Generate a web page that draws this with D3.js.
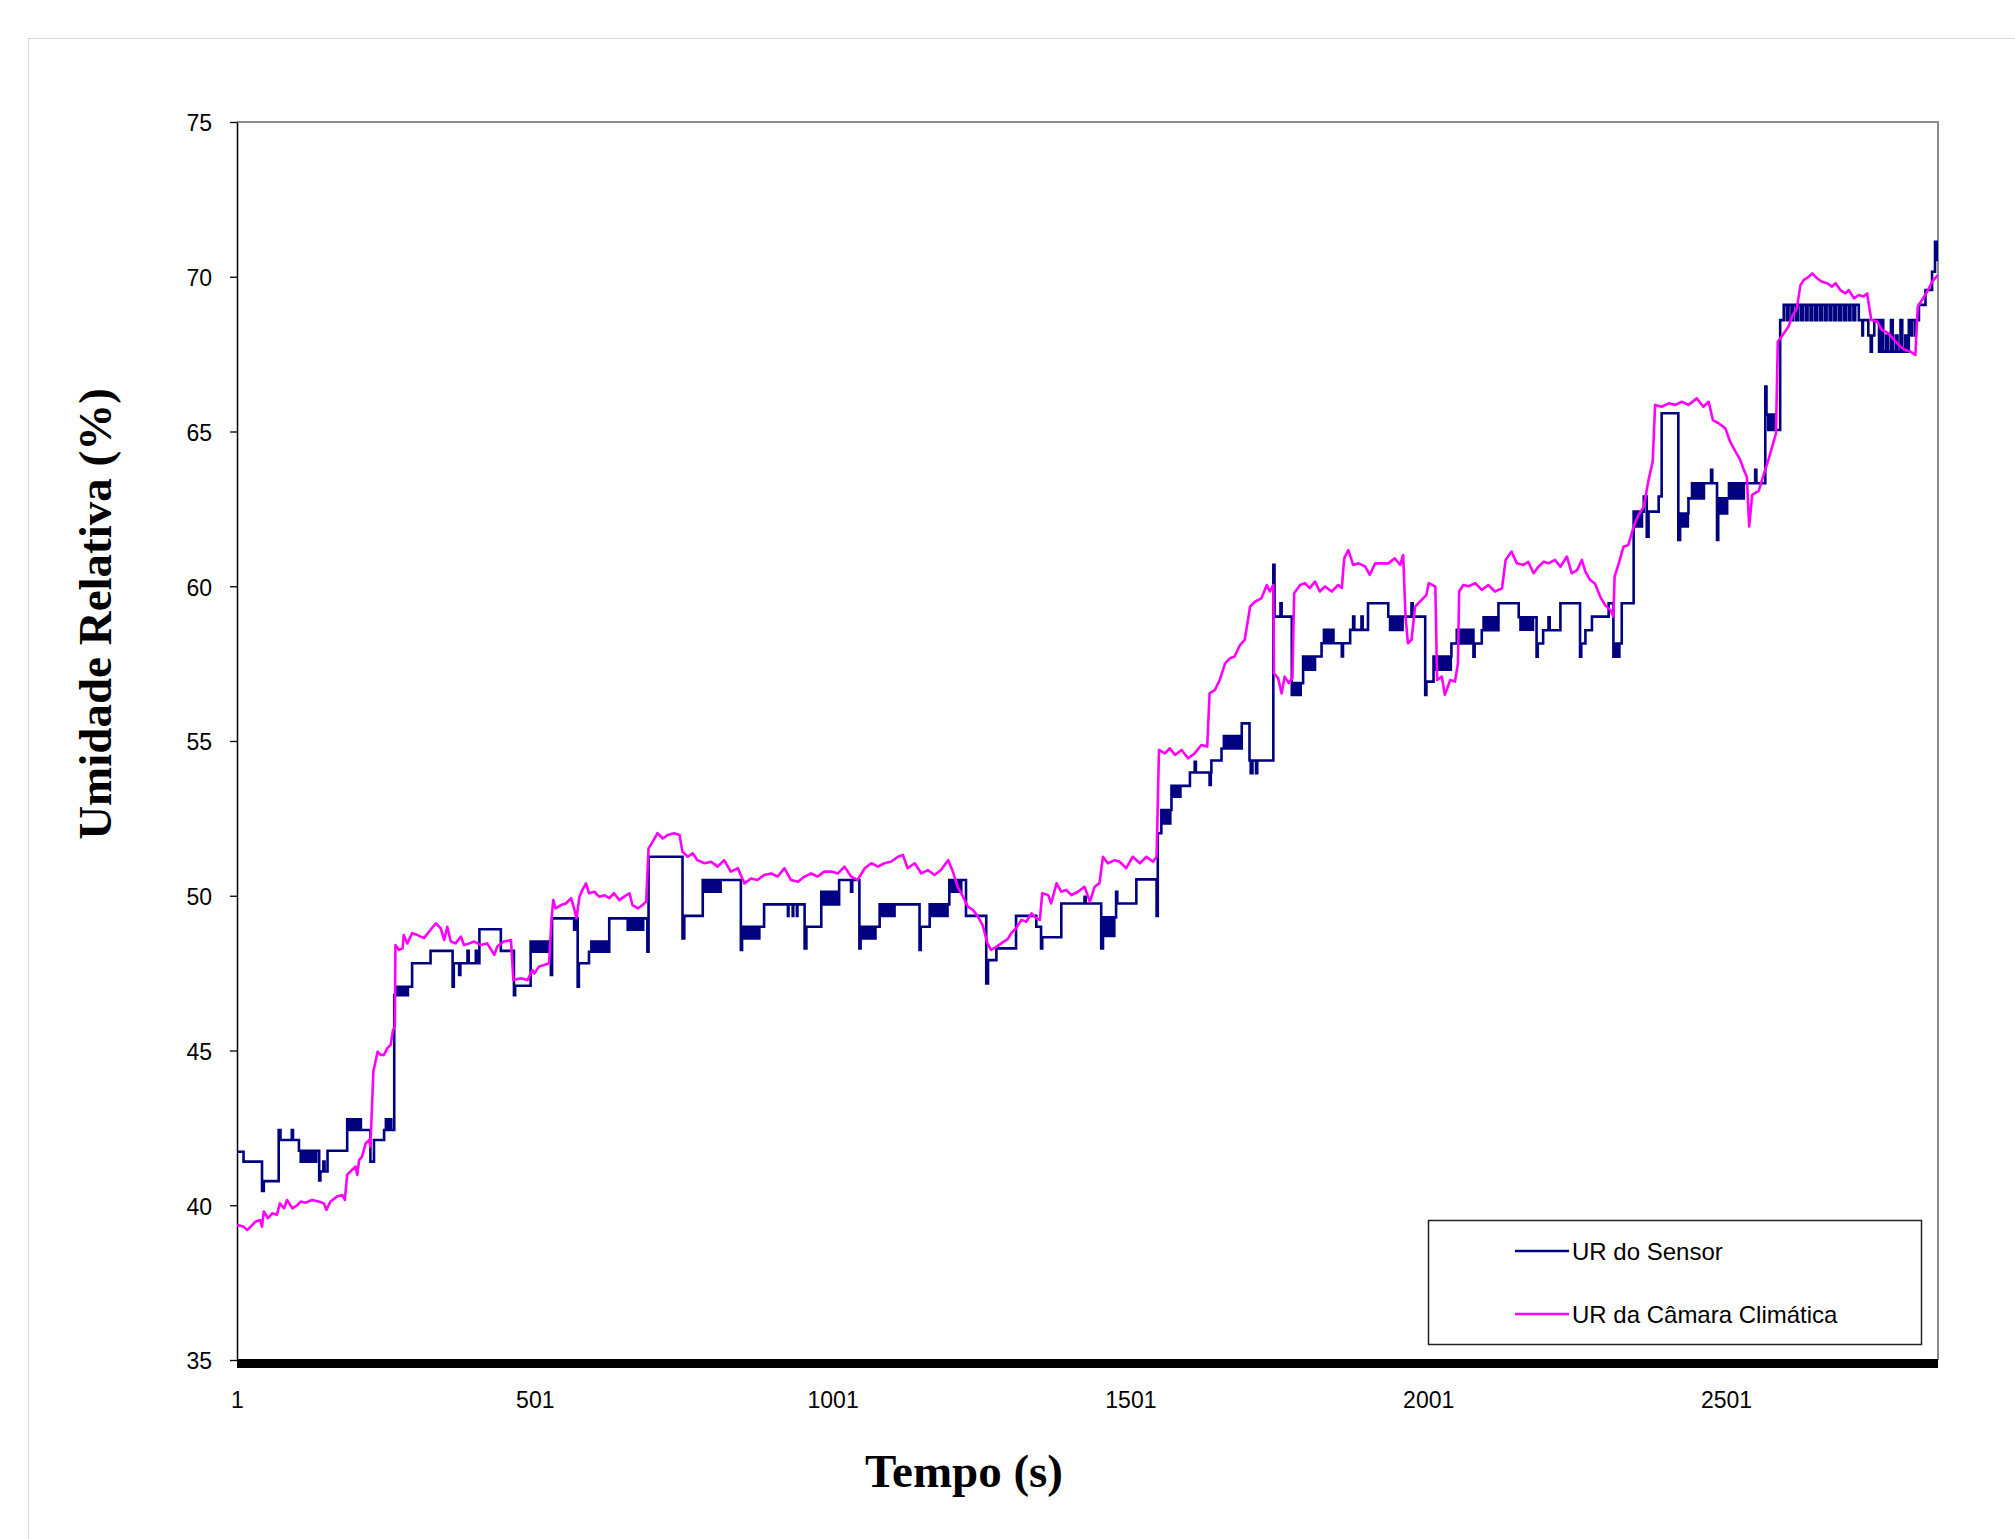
<!DOCTYPE html>
<html>
<head>
<meta charset="utf-8">
<script src="https://cdn.jsdelivr.net/npm/d3@7"></script>
<style>
  html, body { margin: 0; padding: 0; background: #ffffff; }
  svg { display: block; }
</style>
</head>
<body>
<div id="chart"></div>
<script>
// ---------------- DATA ----------------
const xTickLabels = [1, 501, 1001, 1501, 2001, 2501];
const yTickLabels = [35, 40, 45, 50, 55, 60, 65, 70, 75];
const seriesNames = ["UR do Sensor", "UR da Câmara Climática"];
const timeDomain = [1, 2857];

// Sensor relative humidity: [time (s), value (%)], held until the next entry
const sensorRH = [
[1,41.73],[12,41.41],[43,40.46],[46,40.78],[71,42.43],[74,42.11],[93,42.43],[95,42.11],
[105,41.76],[108,41.41],[109,41.76],[113,41.41],[114,41.76],[118,41.41],[119,41.76],[123,41.41],[124,41.76],[128,41.41],[129,41.76],[133,41.41],[134,41.76],
[139,40.8],[141,41.09],[146,41.41],[148,41.09],[153,41.76],
[186,42.78],[190,42.43],[191,42.78],[195,42.43],[196,42.78],[200,42.43],[201,42.78],[205,42.43],[206,42.78],[209,42.43],
[225,41.41],[231,42.11],[248,42.43],[251,42.78],[252,42.43],[255,42.78],[256,42.43],[259,42.78],[260,42.43],
[265,46.79],[268,47.06],[269,46.79],[273,47.06],[274,46.79],[278,47.06],[279,46.79],[283,47.06],[284,46.79],[288,47.06],
[295,47.82],[326,48.22],[363,47.06],[365,47.82],[374,47.44],[376,47.82],[388,48.22],[390,47.82],[402,48.22],[404,47.82],
[408,48.92],[444,48.22],[466,46.79],[468,47.09],
[494,48.52],[498,48.19],[499,48.52],[503,48.19],[504,48.52],[508,48.19],[509,48.52],[513,48.19],[514,48.52],[518,48.19],[519,48.52],[523,48.19],[524,48.52],
[528,47.44],[530,49.27],[567,48.9],[569,49.27],[573,47.06],[575,47.82],
[592,48.19],[596,48.52],[597,48.19],[601,48.52],[602,48.19],[606,48.52],[607,48.19],[611,48.52],[612,48.19],[616,48.52],[617,48.19],[621,48.52],[622,48.19],
[626,49.27],[657,48.9],[658,49.27],[662,48.9],[663,49.27],[667,48.9],[668,49.27],[672,48.9],[673,49.27],[677,48.9],[678,49.27],[682,48.9],[683,49.27],
[690,48.19],[692,51.26],[749,48.62],[752,49.35],
[783,50.51],[787,50.13],[788,50.51],[792,50.13],[793,50.51],[797,50.13],[798,50.51],[802,50.13],[803,50.51],[807,50.13],[808,50.51],[812,50.13],[813,50.51],
[847,48.25],[849,49.0],[852,48.62],[853,49.0],[857,48.62],[858,49.0],[862,48.62],[863,49.0],[867,48.62],[868,49.0],[872,48.62],[873,49.0],[877,48.62],[878,49.0],
[886,49.72],[926,49.35],[927,49.72],[934,49.35],[935,49.72],[941,49.35],[942,49.72],
[954,48.3],[957,49.0],
[982,50.13],[985,49.72],[986,50.13],[990,49.72],[991,50.13],[995,49.72],[996,50.13],[1000,49.72],[1001,50.13],[1005,49.72],[1006,50.13],[1010,49.72],
[1012,50.51],[1032,50.13],[1034,50.51],
[1046,48.3],[1048,49.0],[1052,48.62],[1053,49.0],[1057,48.62],[1058,49.0],[1062,48.62],[1063,49.0],[1067,48.62],[1068,49.0],[1072,48.62],[1073,49.0],
[1080,49.72],[1084,49.35],[1085,49.72],[1089,49.35],[1090,49.72],[1094,49.35],[1095,49.72],[1099,49.35],[1100,49.72],[1104,49.35],[1105,49.72],
[1147,48.25],[1149,49.0],
[1164,49.72],[1168,49.35],[1169,49.72],[1173,49.35],[1174,49.72],[1178,49.35],[1179,49.72],[1183,49.35],[1184,49.72],[1188,49.35],[1189,49.72],[1193,49.35],[1194,49.72],
[1197,50.51],[1201,50.13],[1202,50.51],[1206,50.13],[1207,50.51],[1211,50.13],[1212,50.51],[1216,50.13],[1217,50.51],
[1225,49.35],[1259,47.17],[1262,47.92],[1276,48.3],
[1309,49.35],[1343,49.0],[1351,48.3],[1353,48.66],
[1385,49.75],[1424,49.97],[1426,49.75],
[1452,48.3],[1455,49.3],[1458,48.7],[1459,49.3],[1463,48.7],[1464,49.3],[1468,48.7],[1469,49.3],[1473,48.7],[1474,49.3],
[1477,50.13],[1479,49.75],[1511,50.53],
[1545,49.35],[1547,52.02],[1553,52.77],[1557,52.34],[1558,52.77],[1562,52.34],[1563,52.77],[1567,52.34],[1568,52.77],
[1570,53.55],[1574,53.2],[1575,53.55],[1579,53.2],[1580,53.55],[1584,53.2],[1585,53.55],
[1601,53.98],[1609,54.33],[1611,53.98],[1634,53.58],[1636,53.98],[1637,54.37],
[1654,54.76],[1658,55.16],[1659,54.76],[1663,55.16],[1664,54.76],[1668,55.16],[1669,54.76],[1673,55.16],[1674,54.76],[1678,55.16],[1679,54.76],[1683,55.16],[1684,54.76],
[1688,55.57],[1701,54.37],[1703,53.96],[1706,54.37],[1712,53.96],[1714,54.37],
[1741,60.69],[1743,59.02],[1753,59.45],[1755,59.02],
[1772,56.49],[1774,56.87],[1777,56.49],[1778,56.87],[1782,56.49],[1783,56.87],[1786,56.49],[1787,56.87],
[1791,57.73],[1795,57.3],[1796,57.73],[1800,57.3],[1801,57.73],[1805,57.3],[1806,57.73],[1810,57.3],[1811,57.73],
[1822,58.16],[1826,58.59],[1827,58.16],[1831,58.59],[1832,58.16],[1836,58.59],[1837,58.16],[1841,58.59],[1842,58.16],
[1856,57.73],[1858,58.16],
[1870,58.59],[1875,59.02],[1877,58.59],[1889,59.02],[1891,58.59],
[1900,59.45],
[1934,59.02],[1937,58.59],[1938,59.02],[1942,58.59],[1943,59.02],[1947,58.59],[1948,59.02],[1952,58.59],[1953,59.02],[1957,58.59],[1958,59.02],
[1973,59.45],[1975,59.02],
[1996,56.49],[1998,56.92],
[2010,57.73],[2013,57.3],[2014,57.73],[2018,57.3],[2019,57.73],[2023,57.3],[2024,57.73],[2028,57.3],[2029,57.73],[2033,57.3],[2034,57.73],[2038,57.3],[2039,57.73],
[2040,58.15],[2049,58.59],[2053,58.15],[2054,58.59],[2058,58.15],[2059,58.59],[2063,58.15],[2064,58.59],[2068,58.15],[2069,58.59],[2073,58.15],[2074,58.59],
[2077,57.72],[2079,58.15],
[2091,58.58],[2094,59.0],[2095,58.58],[2099,59.0],[2100,58.58],[2104,59.0],[2105,58.58],[2109,59.0],[2110,58.58],[2114,59.0],[2115,58.58],
[2119,59.45],
[2153,59.0],[2156,58.6],[2157,59.0],[2161,58.6],[2162,59.0],[2166,58.6],[2167,59.0],[2171,58.6],[2172,59.0],[2176,58.6],[2177,59.0],
[2183,57.72],[2185,58.15],[2194,58.58],[2203,59.0],[2205,58.58],
[2223,59.45],
[2256,57.72],[2258,58.15],[2265,58.58],[2276,59.02],
[2304,59.45],
[2312,57.72],[2314,58.15],[2317,57.72],[2318,58.15],[2321,57.72],[2322,58.15],
[2326,59.45],
[2346,62.41],[2349,61.93],[2350,62.41],[2354,61.93],[2355,62.41],[2359,61.93],[2360,62.41],
[2363,62.9],[2368,61.6],[2371,62.41],[2388,62.9],
[2393,65.59],
[2421,61.5],[2424,62.35],[2427,61.93],[2428,62.35],[2432,61.93],[2433,62.35],[2436,61.93],[2437,62.35],
[2438,62.84],[2444,63.33],[2448,62.84],[2449,63.33],[2453,62.84],[2454,63.33],[2458,62.84],[2459,63.33],[2463,62.84],[2464,63.33],
[2476,63.76],[2478,63.33],
[2486,61.5],[2488,62.84],[2492,62.35],[2493,62.84],[2497,62.35],[2498,62.84],[2502,62.35],[2503,62.84],
[2506,63.33],[2510,62.84],[2511,63.33],[2515,62.84],[2516,63.33],[2520,62.84],[2521,63.33],[2525,62.84],[2526,63.33],[2529,62.84],[2531,63.33],
[2550,63.76],[2552,63.33],
[2567,66.45],[2569,65.55],[2572,65.05],[2573,65.55],[2577,65.05],[2578,65.55],[2582,65.05],[2583,65.55],[2584,65.05],
[2592,68.6],
[2598,69.09],[2603,68.6],[2606,69.09],[2611,68.6],[2614,69.09],[2619,68.6],[2622,69.09],[2627,68.6],
[2630,69.09],[2635,68.6],[2638,69.09],[2643,68.6],[2646,69.09],[2651,68.6],[2654,69.09],[2659,68.6],
[2662,69.09],[2667,68.6],[2670,69.09],[2675,68.6],[2678,69.09],[2683,68.6],[2686,69.09],[2691,68.6],
[2694,69.09],[2699,68.6],[2702,69.09],[2707,68.6],[2710,69.09],[2715,68.6],[2718,69.09],
[2724,68.6],[2730,68.1],[2731,68.6],[2740,68.1],[2744,67.58],[2746,68.1],[2750,68.6],
[2758,67.58],[2762,68.6],[2765,67.58],[2770,68.1],[2773,67.58],[2778,68.6],[2781,67.58],[2786,68.1],
[2789,67.58],[2794,68.6],[2797,67.58],[2802,68.1],[2805,67.58],
[2808,68.6],[2812,68.1],[2813,68.6],[2818,68.1],[2819,68.6],
[2825,69.09],[2836,69.57],[2847,70.16],[2852,71.13],[2855,70.54],[2857,70.54]
];

// Climatic chamber relative humidity: [time (s), value (%)]
const chamberRH = [
[1,39.36],[12,39.31],[18,39.2],[24,39.31],[32,39.47],[40,39.52],[43,39.31],[46,39.8],[53,39.58],[60,39.74],
[68,39.69],[73,40.06],[80,39.9],[85,40.17],[94,39.9],[102,40.0],[108,40.12],[116,40.08],[127,40.17],[138,40.12],
[147,40.06],[151,39.85],[158,40.12],[169,40.28],[178,40.33],[182,40.17],[186,40.98],[194,41.14],[200,41.25],[203,40.98],
[206,41.46],[211,41.57],[217,42.0],[223,42.11],[225,41.89],[230,44.32],[237,44.96],[242,44.86],[248,44.86],[253,45.07],
[259,45.18],[263,45.66],[266,45.77],[267,48.41],[273,48.25],[279,48.3],[281,48.73],[287,48.46],[295,48.79],[304,48.73],
[315,48.63],[326,48.9],[335,49.11],[343,48.95],[349,48.57],[354,49.0],[360,48.52],[368,48.46],[377,48.68],[382,48.41],
[391,48.46],[399,48.52],[410,48.41],[421,48.46],[433,48.09],[438,48.36],[449,48.52],[461,48.57],[465,47.28],[478,47.33],
[489,47.28],[497,47.6],[500,47.49],[508,47.71],[517,47.76],[525,47.82],[529,49.22],[532,49.86],[536,49.59],[545,49.7],
[553,49.75],[562,49.92],[567,49.59],[571,49.27],[576,49.97],[581,50.19],[587,50.4],[592,50.08],[601,50.13],[609,49.97],
[618,50.02],[626,49.92],[634,50.08],[643,49.86],[651,49.97],[660,50.08],[665,49.7],[674,49.59],[682,49.7],[688,49.81],
[692,51.53],[699,51.75],[707,52.02],[716,51.85],[724,51.96],[735,52.02],[744,51.96],[749,51.42],[758,51.26],[766,51.37],
[774,51.15],[786,51.05],[797,51.1],[808,50.94],[819,51.15],[830,50.78],[842,50.89],[853,50.4],[864,50.56],[875,50.51],
[886,50.67],[898,50.72],[909,50.62],[920,50.89],[931,50.51],[943,50.45],[954,50.62],[965,50.72],[976,50.62],[987,50.78],
[999,50.78],[1010,50.72],[1021,50.94],[1032,50.62],[1043,50.51],[1055,50.89],[1066,51.05],[1077,50.94],[1088,51.05],[1099,51.1],
[1111,51.26],[1119,51.32],[1127,50.89],[1139,51.05],[1150,50.72],[1161,50.83],[1172,50.67],[1183,50.83],[1195,51.15],[1203,50.78],
[1211,50.29],[1220,49.97],[1228,49.65],[1237,49.54],[1245,49.32],[1253,49.05],[1261,48.46],[1267,48.25],[1276,48.35],[1284,48.46],
[1295,48.6],[1301,48.79],[1309,48.95],[1318,49.22],[1326,49.16],[1335,49.43],[1343,49.27],[1349,49.22],[1353,50.08],[1363,50.02],
[1368,49.75],[1377,50.4],[1385,50.13],[1393,50.19],[1402,50.02],[1413,50.13],[1424,50.29],[1433,49.81],[1441,50.29],[1449,50.4],
[1455,51.26],[1463,51.05],[1475,51.15],[1483,51.1],[1494,50.89],[1505,51.26],[1517,51.05],[1528,51.26],[1539,51.1],[1545,51.26],
[1549,54.71],[1559,54.6],[1567,54.76],[1576,54.55],[1587,54.71],[1598,54.44],[1609,54.6],[1620,54.87],[1630,54.82],[1634,56.54],
[1643,56.65],[1651,56.97],[1660,57.51],[1668,57.67],[1676,57.73],[1685,58.1],[1693,58.27],[1702,59.34],[1710,59.5],[1721,59.61],
[1730,60.04],[1735,59.83],[1741,60.04],[1742,57.19],[1749,57.03],[1755,56.54],[1760,57.08],[1767,56.87],[1773,57.03],[1776,59.77],
[1786,60.04],[1794,60.1],[1802,59.94],[1811,60.15],[1819,59.83],[1828,59.99],[1839,59.83],[1850,60.04],[1856,59.94],[1860,60.9],
[1867,61.17],[1875,60.69],[1884,60.74],[1895,60.64],[1903,60.37],[1912,60.74],[1923,60.74],[1934,60.74],[1945,60.9],[1954,60.69],
[1959,61.01],[1963,59.02],[1967,58.16],[1973,58.27],[1979,59.34],[1990,59.56],[1998,59.72],[2002,60.1],[2013,59.99],[2016,56.97],
[2024,57.08],[2029,56.49],[2038,56.97],[2046,56.92],[2051,57.51],[2053,59.83],[2060,60.04],[2069,60.0],[2080,60.1],[2091,59.88],
[2102,60.04],[2113,59.83],[2125,59.93],[2131,60.85],[2141,61.12],[2150,60.74],[2161,60.69],[2169,60.79],[2178,60.42],[2186,60.63],
[2195,60.79],[2203,60.74],[2214,60.85],[2223,60.63],[2234,60.96],[2242,60.42],[2251,60.52],[2259,60.85],[2265,60.47],[2273,60.2],
[2281,60.09],[2290,59.66],[2298,59.39],[2307,59.23],[2312,59.02],[2314,60.31],[2321,60.74],[2329,61.28],[2337,61.33],[2346,61.93],
[2354,62.3],[2363,62.57],[2371,63.43],[2378,64.03],[2382,65.86],[2393,65.8],[2405,65.91],[2416,65.86],[2427,65.96],[2438,65.86],
[2452,66.07],[2463,65.8],[2472,65.96],[2479,65.37],[2489,65.26],[2500,65.1],[2508,64.67],[2517,64.35],[2525,64.08],[2531,63.76],
[2536,63.54],[2540,61.93],[2545,62.95],[2556,63.08],[2564,63.59],[2573,64.13],[2581,64.67],[2585,64.94],[2588,67.9],[2598,68.17],
[2606,68.39],[2612,68.71],[2620,68.98],[2626,69.73],[2632,69.9],[2640,70.0],[2646,70.11],[2654,69.95],[2662,69.84],[2671,69.79],
[2679,69.68],[2685,69.79],[2693,69.57],[2702,69.46],[2707,69.57],[2716,69.3],[2724,69.41],[2732,69.36],[2738,69.46],[2745,68.6],
[2755,68.55],[2763,68.28],[2774,68.17],[2786,67.9],[2794,67.74],[2802,67.63],[2811,67.58],[2819,67.47],[2823,69.03],[2830,69.25],
[2839,69.52],[2847,69.84],[2852,69.95],[2857,70.06]
];

// ---------------- LAYOUT ----------------
const W = 2015, H = 1539;
const plot = { left: 237, right: 1938, top: 122, bottom: 1360 };
const colors = { sensor: "#000080", chamber: "#ff00ff" };
const sansFont = "'Liberation Sans', Arial, sans-serif";
const serifFont = "'Liberation Serif', 'Times New Roman', serif";

const svg = d3.select("#chart").append("svg")
  .attr("width", W).attr("height", H)
  .attr("viewBox", `0 0 ${W} ${H}`);

svg.append("rect").attr("width", W).attr("height", H).attr("fill", "#fff");

// chart area border (partially outside the frame)
svg.append("rect")
  .attr("x", 28.5).attr("y", 38.5)
  .attr("width", 2200).attr("height", 1700)
  .attr("fill", "none").attr("stroke", "#d4d4d4").attr("stroke-width", 1);

const x = d3.scaleLinear().domain(timeDomain).range([plot.left, plot.right]);
const y = d3.scaleLinear().domain([35, 75]).range([plot.bottom, plot.top]);

// plot area frame: top and right in grey
svg.append("path")
  .attr("d", `M${plot.left},${plot.top}H${plot.right}V${plot.bottom}`)
  .attr("fill", "none").attr("stroke", "#8c8c8c").attr("stroke-width", 2);

// Y axis
const yAxis = d3.axisLeft(y).tickValues(yTickLabels).tickSizeInner(7).tickSizeOuter(0).tickPadding(18)
  .tickFormat(d3.format("d"));
const gy = svg.append("g").attr("transform", `translate(${plot.left},0)`).call(yAxis);
gy.select(".domain").attr("stroke", "#000").attr("stroke-width", 1.5);
gy.selectAll(".tick line").attr("stroke", "#000").attr("stroke-width", 1.3);
gy.selectAll(".tick text").attr("font-family", sansFont).attr("font-size", 23).attr("fill", "#000")
  .attr("dy", "0.38em");

// X axis
const xAxis = d3.axisBottom(x).tickValues(xTickLabels).tickSizeInner(0).tickSizeOuter(0).tickPadding(32)
  .tickFormat(d3.format("d"));
const gx = svg.append("g").attr("transform", `translate(0,${plot.bottom})`).call(xAxis);
gx.select(".domain").remove();
gx.selectAll(".tick text").attr("font-family", sansFont).attr("font-size", 23).attr("fill", "#000");

// thick black baseline
svg.append("line")
  .attr("x1", x(timeDomain[0])).attr("x2", x(timeDomain[1]))
  .attr("y1", plot.bottom + 3.5).attr("y2", plot.bottom + 3.5)
  .attr("stroke", "#000").attr("stroke-width", 9);

// series
svg.append("clipPath").attr("id", "clipPlot").append("rect")
  .attr("x", plot.left).attr("y", plot.top - 2)
  .attr("width", plot.right - plot.left).attr("height", plot.bottom - plot.top + 2);

const sensorLine = d3.line().x(d => x(d[0])).y(d => y(d[1])).curve(d3.curveStepAfter);
const chamberLine = d3.line().x(d => x(d[0])).y(d => y(d[1]));

const gSeries = svg.append("g").attr("clip-path", "url(#clipPlot)");
gSeries.append("path").datum(sensorRH)
  .attr("d", sensorLine)
  .attr("fill", "none").attr("stroke", colors.sensor).attr("stroke-width", 2.6)
  .attr("stroke-linejoin", "miter");
gSeries.append("path").datum(chamberRH)
  .attr("d", chamberLine)
  .attr("fill", "none").attr("stroke", colors.chamber).attr("stroke-width", 2.6)
  .attr("stroke-linejoin", "round");

// axis titles
svg.append("text")
  .attr("x", 964).attr("y", 1487)
  .attr("text-anchor", "middle")
  .attr("font-family", serifFont).attr("font-weight", "bold").attr("font-size", 47)
  .attr("fill", "#000")
  .text("Tempo (s)");

svg.append("text")
  .attr("transform", "translate(111,614) rotate(-90)")
  .attr("text-anchor", "middle")
  .attr("font-family", serifFont).attr("font-weight", "bold").attr("font-size", 47)
  .attr("fill", "#000")
  .text("Umidade Relativa (%)");

// legend
const legend = svg.append("g");
legend.append("rect")
  .attr("x", 1428.5).attr("y", 1220.5).attr("width", 493).attr("height", 124)
  .attr("fill", "#fff").attr("stroke", "#222").attr("stroke-width", 1.5);
const legendItems = [
  { name: seriesNames[0], color: colors.sensor, y: 1251 },
  { name: seriesNames[1], color: colors.chamber, y: 1314 }
];
legendItems.forEach(it => {
  legend.append("line")
    .attr("x1", 1515).attr("x2", 1569).attr("y1", it.y).attr("y2", it.y)
    .attr("stroke", it.color).attr("stroke-width", 2.6);
  legend.append("text")
    .attr("x", 1572).attr("y", it.y + 8.5)
    .attr("font-family", sansFont).attr("font-size", 24).attr("fill", "#000")
    .text(it.name);
});
</script>
</body>
</html>
